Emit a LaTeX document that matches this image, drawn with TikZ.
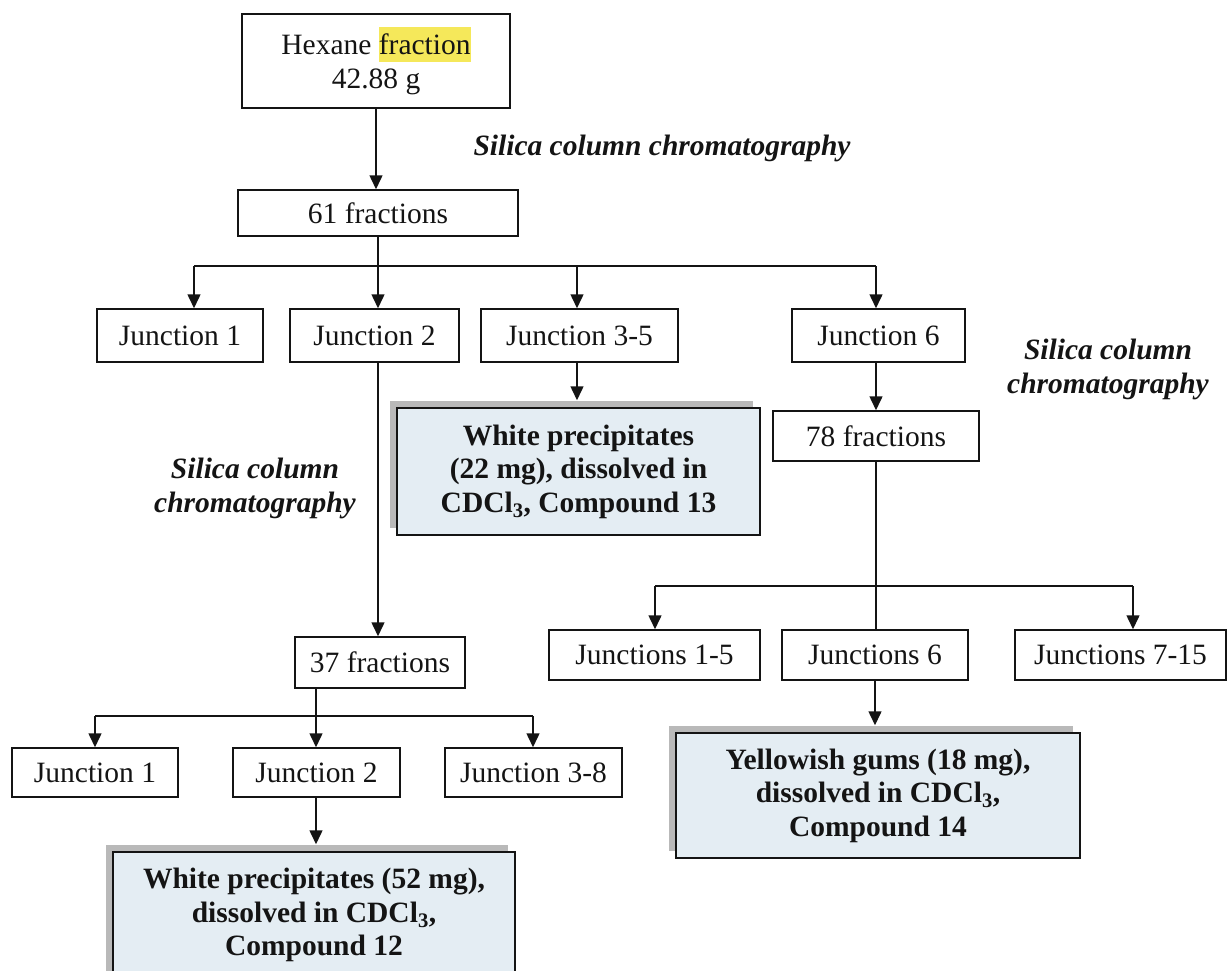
\documentclass[tikz,border=0pt]{standalone}
\usepackage{fontspec}
\setmainfont{Liberation Serif}
\usetikzlibrary{arrows.meta,shadows}
\definecolor{ink}{RGB}{20,20,20}
\definecolor{boxfill}{RGB}{228,237,243}
\definecolor{shade}{RGB}{185,185,185}
\definecolor{hlcol}{RGB}{245,232,90}
\newcommand\hilite[1]{{\setlength{\fboxsep}{0pt}\colorbox{hlcol}{\rule[-7bp]{0pt}{35bp}#1}}}

\begin{document}
\begin{tikzpicture}[x=1bp,y=-1bp,
  txt/.style={font=\fontsize{29.5bp}{34bp}\selectfont, text=ink, align=center},
  box/.style={txt, draw=ink, line width=1.5bp, fill=white, inner sep=0pt},
  resultbox/.style={box, font=\fontsize{29.5bp}{33.5bp}\selectfont\bfseries, fill=boxfill,
     general shadow={shadow xshift=-7bp, shadow yshift=7bp, fill=shade}},
  note/.style={txt, font=\fontsize{29.5bp}{34bp}\selectfont\bfseries\itshape},
  link/.style={draw=ink, line width=1.5bp},
  arr/.style={link, -{Triangle[width=13bp,length=14bp]}},
]
\useasboundingbox (0,0) rectangle (1230,971);
\clip (0,0) rectangle (1230,971);
\fill[white] (0,0) rectangle (1230,971);

% boxes
\node[box, minimum width=268bp, minimum height=94bp] (hex) at (376,61) {Hexane \hilite{fraction}\\42.88 g};
\node[note] (lab1) at (662,148) {Silica column chromatography};
\node[box, minimum width=280bp, minimum height=46bp] (f61) at (378,213) {61 fractions};

\node[box, minimum width=166bp, minimum height=53bp] (ja1) at (180,335.5) {Junction 1};
\node[box, minimum width=169bp, minimum height=53bp] (ja2) at (374.5,335.5) {Junction 2};
\node[box, minimum width=197bp, minimum height=53bp] (ja35) at (579.5,335.5) {Junction 3-5};
\node[box, minimum width=173bp, minimum height=53bp] (ja6) at (878.5,335.5) {Junction 6};
\node[note] (lab2) at (1108,369) {Silica column\\chromatography};

\node[resultbox, minimum width=363bp, minimum height=127bp] (c13) at (578.5,471.5)
  {White precipitates\\(22 mg), dissolved in\\CDCl\textsubscript{3}, Compound 13};
\node[note] (lab3) at (255,488) {Silica column\\chromatography};
\node[box, minimum width=206bp, minimum height=50bp] (f78) at (876,436) {78 fractions};

\node[box, minimum width=170bp, minimum height=51bp] (f37) at (380,662.5) {37 fractions};
\node[box, minimum width=211bp, minimum height=50bp] (jc15) at (654.5,655) {Junctions 1-5};
\node[box, minimum width=186bp, minimum height=50bp] (jc6) at (875,655) {Junctions 6};
\node[box, minimum width=211bp, minimum height=50bp] (jc715) at (1120.5,655) {Junctions 7-15};

\node[resultbox, minimum width=404bp, minimum height=125bp] (c14) at (878,795.5)
  {Yellowish gums (18 mg),\\dissolved in CDCl\textsubscript{3},\\Compound 14};

\node[box, minimum width=166bp, minimum height=49bp] (jb1) at (95,772.5) {Junction 1};
\node[box, minimum width=167bp, minimum height=49bp] (jb2) at (316.5,772.5) {Junction 2};
\node[box, minimum width=177bp, minimum height=49bp] (jb38) at (533.5,772.5) {Junction 3-8};

\node[resultbox, minimum width=402bp, minimum height=126bp] (c12) at (314,915)
  {White precipitates (52 mg),\\dissolved in CDCl\textsubscript{3},\\Compound 12};

% branch points
\coordinate (ta) at (194,266);
\coordinate (tc) at (577,266);
\coordinate (tb) at (876,266);
\coordinate (ma) at (655,586);
\coordinate (mb) at (1133,586);
\coordinate (ba) at (95,716);
\coordinate (bc) at (316,716);
\coordinate (bb) at (533,716);

% connectors
\draw[arr] (hex.south) -- (hex.south |- f61.north);
\draw[link] (ta) -- (tb);
\draw[arr] (f61.south) -- (f61.south |- ja2.north);
\draw[arr] (ta) -- (ta |- ja1.north);
\draw[arr] (tc) -- (tc |- ja35.north);
\draw[arr] (tb) -- (tb |- ja6.north);
\draw[arr, shorten >=7bp] (tc |- ja35.south) -- (tc |- c13.north);
\draw[arr] (f61.south |- ja2.south) -- (f61.south |- f37.north);
\draw[arr] (tb |- ja6.south) -- (tb |- f78.north);

\draw[link] (ma) -- (mb);
\draw[link] (f78.south) -- (f78.south |- jc6.north);
\draw[arr] (ma) -- (ma |- jc15.north);
\draw[arr] (mb) -- (mb |- jc715.north);
\draw[arr, shorten >=7bp] (jc6.south) -- (jc6.south |- c14.north);

\draw[link] (ba) -- (bb);
\draw[link] (bc |- f37.south) -- (bc);
\draw[arr] (ba) -- (ba |- jb1.north);
\draw[arr] (bc) -- (bc |- jb2.north);
\draw[arr] (bb) -- (bb |- jb38.north);
\draw[arr, shorten >=7bp] (bc |- jb2.south) -- (bc |- c12.north);
\end{tikzpicture}
\end{document}
